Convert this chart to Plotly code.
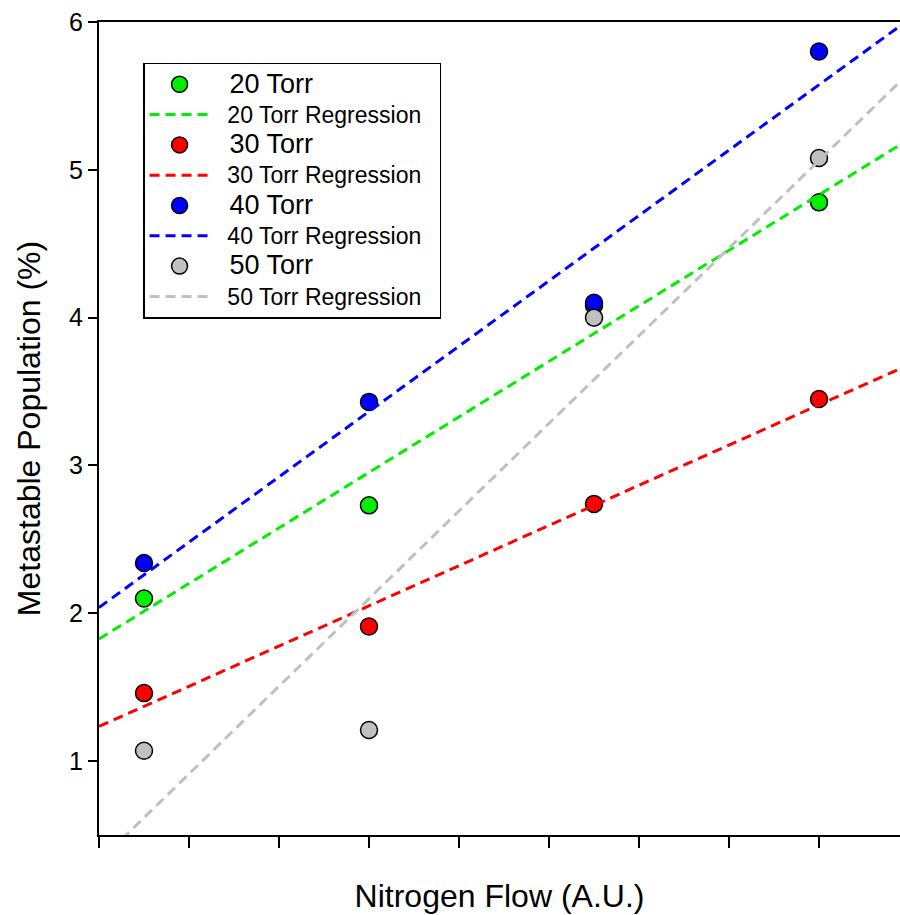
import numpy as np
import plotly.graph_objects as go

# Nitrogen flow settings (arbitrary units)
flow = [0.5, 3.0, 5.5, 8.0]

# Metastable population (%) at each pressure
pop_20 = [2.10, 2.73, 4.08, 4.78]
pop_30 = [1.46, 1.91, 2.74, 3.45]
pop_40 = [2.34, 3.43, 4.10, 5.80]
pop_50 = [1.07, 1.21, 4.00, 5.08]

series_names = ["20 Torr", "30 Torr", "40 Torr", "50 Torr"]
series_values = [pop_20, pop_30, pop_40, pop_50]
series_colors = ["#00ee00", "#ff0000", "#0000ff", "#c0c0c0"]

FONT = "Arial, 'Liberation Sans', sans-serif"
PAD = "\u00a0\u00a0"

fig = go.Figure()

fit_x = np.array([0.0, 10.0])
for name, vals, color in zip(series_names, series_values, series_colors):
    slope, intercept = np.polyfit(flow, vals, 1)
    fig.add_trace(go.Scatter(
        x=flow, y=vals, mode="markers",
        name=f"<span style='font-size:27px'>{PAD}{name}</span>",
        marker=dict(size=17, color=color, line=dict(color="black", width=1.5)),
    ))
    fig.add_trace(go.Scatter(
        x=fit_x, y=intercept + slope * fit_x, mode="lines",
        name=f"<span style='font-size:23px'>{PAD}{name} Regression{PAD}</span>",
        line=dict(color=color, width=3, dash="10px,6px"),
    ))

fig.update_layout(
    width=900, height=915,
    margin=dict(l=99, r=0, t=22, b=80),
    plot_bgcolor="white", paper_bgcolor="white",
    font=dict(family=FONT, color="black"),
    showlegend=True,
    legend=dict(
        x=0.055, y=0.95, xanchor="left", yanchor="top",
        bgcolor="white", bordercolor="black", borderwidth=1.5,
        font=dict(size=21, family=FONT, color="black"),
        itemwidth=60, tracegroupgap=0,
    ),
    xaxis=dict(
        range=[0, 8.9], dtick=1, tick0=0,
        showticklabels=False, ticks="outside", ticklen=11, tickwidth=2,
        tickcolor="black", showline=True, linecolor="black", linewidth=2,
        mirror=True, showgrid=False, zeroline=False,
        title=dict(text="Nitrogen Flow (A.U.)", font=dict(size=32, family=FONT),
                   standoff=38),
    ),
    yaxis=dict(
        range=[0.5, 6], tickvals=[1, 2, 3, 4, 5, 6],
        ticks="outside", ticklen=9, tickwidth=2, tickcolor="black",
        tickfont=dict(size=25, family=FONT),
        showline=True, linecolor="black", linewidth=2,
        showgrid=False, zeroline=False,
        title=dict(text="Metastable Population (%)", font=dict(size=32, family=FONT),
                   standoff=19),
    ),
)

fig.write_html("out.html")
